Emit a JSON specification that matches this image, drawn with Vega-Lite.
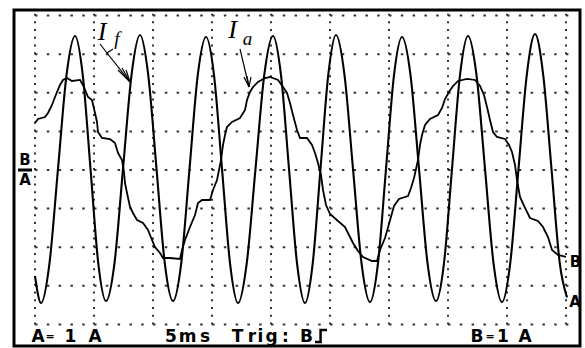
{
  "$schema": "https://vega.github.io/schema/vega-lite/v6.json",
  "width": 566,
  "height": 336,
  "autosize": {"type": "none"},
  "padding": {"left": 14, "top": 10, "right": 5, "bottom": 2},
  "background": "#ffffff",
  "config": {"view": {"stroke": "#000000", "strokeWidth": 3}},
  "datasets": {
    "vgrid": [{"t": 0}, {"t": 5}, {"t": 10}, {"t": 15}, {"t": 20}, {"t": 25}, {"t": 30}, {"t": 35}, {"t": 40}, {"t": 45}],
    "hgrid": [{"v": -4}, {"v": -3}, {"v": -2}, {"v": -1}, {"v": 0}, {"v": 1}, {"v": 2}, {"v": 3}, {"v": 4}],
    "sigA": [
      {"t": 0, "v": -2.75}, {"t": 0.508, "v": -3.446},
      {"t": 1.229, "v": -2.41}, {"t": 1.949, "v": 0.03}, {"t": 2.670, "v": 2.46}, {"t": 3.390, "v": 3.472},
      {"t": 4.047, "v": 2.46}, {"t": 4.704, "v": 0.03}, {"t": 5.360, "v": -2.41}, {"t": 6.017, "v": -3.394},
      {"t": 6.737, "v": -2.41}, {"t": 7.458, "v": 0.03}, {"t": 8.178, "v": 2.46}, {"t": 8.898, "v": 3.497},
      {"t": 9.597, "v": 2.46}, {"t": 10.297, "v": 0.03}, {"t": 10.996, "v": -2.41}, {"t": 11.695, "v": -3.394},
      {"t": 12.394, "v": -2.41}, {"t": 13.094, "v": 0.03}, {"t": 13.793, "v": 2.46}, {"t": 14.492, "v": 3.446},
      {"t": 15.170, "v": 2.46}, {"t": 15.848, "v": 0.03}, {"t": 16.525, "v": -2.41}, {"t": 17.203, "v": -3.446},
      {"t": 17.945, "v": -2.41}, {"t": 18.686, "v": 0.03}, {"t": 19.428, "v": 2.46}, {"t": 20.169, "v": 3.472},
      {"t": 20.847, "v": 2.46}, {"t": 21.525, "v": 0.03}, {"t": 22.203, "v": -2.41}, {"t": 22.881, "v": -3.446},
      {"t": 23.538, "v": -2.41}, {"t": 24.195, "v": 0.03}, {"t": 24.851, "v": 2.46}, {"t": 25.508, "v": 3.497},
      {"t": 26.229, "v": 2.46}, {"t": 26.949, "v": 0.03}, {"t": 27.670, "v": -2.41}, {"t": 28.390, "v": -3.420},
      {"t": 29.068, "v": -2.41}, {"t": 29.746, "v": 0.03}, {"t": 30.424, "v": 2.46}, {"t": 31.102, "v": 3.446},
      {"t": 31.822, "v": 2.46}, {"t": 32.543, "v": 0.03}, {"t": 33.263, "v": -2.41}, {"t": 33.983, "v": -3.394},
      {"t": 34.661, "v": -2.41}, {"t": 35.339, "v": 0.03}, {"t": 36.017, "v": 2.46}, {"t": 36.695, "v": 3.472},
      {"t": 37.415, "v": 2.46}, {"t": 38.136, "v": 0.03}, {"t": 38.856, "v": -2.41}, {"t": 39.576, "v": -3.420},
      {"t": 40.275, "v": -2.41}, {"t": 40.975, "v": 0.03}, {"t": 41.674, "v": 2.46}, {"t": 42.373, "v": 3.523},
      {"t": 43.07, "v": 2.46}, {"t": 43.77, "v": 0.03}, {"t": 44.47, "v": -2.41}, {"t": 45.085, "v": -3.30}
    ],
    "sigB": [
      {"t": 0, "v": 1.218}, {"t": 0.254, "v": 1.321}, {"t": 0.847, "v": 1.373}, {"t": 1.102, "v": 1.477},
      {"t": 1.441, "v": 1.684}, {"t": 1.695, "v": 1.891}, {"t": 1.864, "v": 2.021}, {"t": 2.119, "v": 2.202},
      {"t": 2.373, "v": 2.332}, {"t": 2.712, "v": 2.383}, {"t": 3.136, "v": 2.306}, {"t": 3.814, "v": 2.332},
      {"t": 4.068, "v": 2.202}, {"t": 4.492, "v": 1.891}, {"t": 4.831, "v": 1.813}, {"t": 5.085, "v": 1.477},
      {"t": 5.254, "v": 1.244}, {"t": 5.339, "v": 0.984}, {"t": 5.678, "v": 0.829}, {"t": 6.356, "v": 0.803},
      {"t": 6.780, "v": 0.699}, {"t": 7.034, "v": 0.440}, {"t": 7.373, "v": 0.259}, {"t": 7.542, "v": -0.052},
      {"t": 7.627, "v": -0.337}, {"t": 7.797, "v": -0.596}, {"t": 8.051, "v": -0.959}, {"t": 8.305, "v": -1.114},
      {"t": 8.644, "v": -1.295}, {"t": 9.153, "v": -1.373}, {"t": 9.576, "v": -1.554}, {"t": 9.915, "v": -1.813},
      {"t": 10.169, "v": -1.995}, {"t": 10.593, "v": -2.150}, {"t": 10.847, "v": -2.280}, {"t": 11.441, "v": -2.280},
      {"t": 12.288, "v": -2.306}, {"t": 12.458, "v": -2.073}, {"t": 12.712, "v": -1.813}, {"t": 13.136, "v": -1.477},
      {"t": 13.559, "v": -1.166}, {"t": 13.814, "v": -0.855}, {"t": 14.153, "v": -0.777}, {"t": 14.831, "v": -0.777},
      {"t": 15.085, "v": -0.518}, {"t": 15.424, "v": -0.259}, {"t": 15.763, "v": 0.259}, {"t": 15.932, "v": 0.648},
      {"t": 16.102, "v": 0.907}, {"t": 16.271, "v": 1.114}, {"t": 16.695, "v": 1.244}, {"t": 17.373, "v": 1.347},
      {"t": 17.797, "v": 1.554}, {"t": 17.966, "v": 1.813}, {"t": 18.220, "v": 2.021}, {"t": 18.475, "v": 2.150},
      {"t": 18.898, "v": 2.280}, {"t": 19.492, "v": 2.383}, {"t": 19.915, "v": 2.409}, {"t": 20.593, "v": 2.332},
      {"t": 21.017, "v": 2.150}, {"t": 21.356, "v": 1.995}, {"t": 21.610, "v": 1.736}, {"t": 21.864, "v": 1.425},
      {"t": 22.203, "v": 1.036}, {"t": 22.458, "v": 0.829}, {"t": 23.051, "v": 0.829}, {"t": 23.475, "v": 0.648},
      {"t": 23.729, "v": 0.440}, {"t": 23.983, "v": 0.181}, {"t": 24.237, "v": -0.130}, {"t": 24.407, "v": -0.518},
      {"t": 24.661, "v": -0.907}, {"t": 25.000, "v": -1.140}, {"t": 25.678, "v": -1.321}, {"t": 26.271, "v": -1.477},
      {"t": 26.610, "v": -1.684}, {"t": 26.949, "v": -1.891}, {"t": 27.373, "v": -2.098}, {"t": 27.797, "v": -2.254},
      {"t": 28.559, "v": -2.358}, {"t": 28.983, "v": -2.358}, {"t": 29.237, "v": -2.073}, {"t": 29.661, "v": -1.762},
      {"t": 30.000, "v": -1.399}, {"t": 30.424, "v": -0.933}, {"t": 30.847, "v": -0.751}, {"t": 31.610, "v": -0.674},
      {"t": 31.864, "v": -0.466}, {"t": 32.119, "v": -0.207}, {"t": 32.458, "v": 0.259}, {"t": 32.627, "v": 0.648},
      {"t": 32.797, "v": 0.907}, {"t": 33.051, "v": 1.166}, {"t": 33.475, "v": 1.321}, {"t": 34.153, "v": 1.425},
      {"t": 34.492, "v": 1.606}, {"t": 34.746, "v": 1.839}, {"t": 35.085, "v": 2.021}, {"t": 35.424, "v": 2.176},
      {"t": 35.847, "v": 2.306}, {"t": 36.610, "v": 2.358}, {"t": 37.288, "v": 2.332}, {"t": 37.712, "v": 2.176},
      {"t": 38.051, "v": 1.943}, {"t": 38.305, "v": 1.632}, {"t": 38.559, "v": 1.295}, {"t": 38.814, "v": 0.984},
      {"t": 39.153, "v": 0.855}, {"t": 39.831, "v": 0.803}, {"t": 40.169, "v": 0.648}, {"t": 40.424, "v": 0.466},
      {"t": 40.678, "v": 0.130}, {"t": 40.847, "v": -0.259}, {"t": 41.102, "v": -0.699}, {"t": 41.525, "v": -0.984},
      {"t": 41.949, "v": -1.244}, {"t": 42.627, "v": -1.321}, {"t": 43.051, "v": -1.477}, {"t": 43.475, "v": -1.736},
      {"t": 43.814, "v": -2.073}, {"t": 44.322, "v": -2.202}, {"t": 45.000, "v": -2.254}
    ],
    "arrows": [
      {"t": 5.508, "v": 3.264, "t2": 6.102, "v2": 3.031},
      {"t": 6.610, "v": 3.135, "t2": 6.102, "v2": 3.031},
      {"t": 6.102, "v": 3.031, "t2": 8.051, "v2": 2.280},
      {"t": 7.034, "v": 2.591, "t2": 8.051, "v2": 2.280},
      {"t": 7.373, "v": 2.642, "t2": 8.051, "v2": 2.280},
      {"t": 7.712, "v": 2.591, "t2": 8.051, "v2": 2.280},
      {"t": 17.373, "v": 3.135, "t2": 18.136, "v2": 2.150},
      {"t": 17.712, "v": 2.409, "t2": 18.136, "v2": 2.150},
      {"t": 17.966, "v": 2.435, "t2": 18.136, "v2": 2.150},
      {"t": 18.305, "v": 2.409, "t2": 18.136, "v2": 2.150}
    ],
    "scopeText": [
      {"label": "A", "t": 0.254, "v": -4.469},
      {"label": "1", "t": 3.008, "v": -4.469}, {"label": "A", "t": 5.085, "v": -4.469},
      {"label": "5", "t": 11.525, "v": -4.469}, {"label": "m", "t": 12.924, "v": -4.469},
      {"label": "s", "t": 14.407, "v": -4.469}, {"label": "T", "t": 17.161, "v": -4.469},
      {"label": "r", "t": 18.390, "v": -4.469}, {"label": "i", "t": 19.110, "v": -4.469},
      {"label": "g", "t": 20.042, "v": -4.469}, {"label": ":", "t": 21.229, "v": -4.469},
      {"label": "B", "t": 23.008, "v": -4.469}, {"label": "B", "t": 37.458, "v": -4.469},
      {"label": "1", "t": 39.661, "v": -4.469},
      {"label": "A", "t": 41.525, "v": -4.469}
    ],
    "eqText": [
      {"label": "=", "t": 1.27, "v": -4.40},
      {"label": "=", "t": 38.56, "v": -4.40}
    ],
    "sideText": [
      {"label": "B", "t": 45.805, "v": -2.513}, {"label": "A", "t": 45.763, "v": -3.549},
      {"label": "B", "t": -0.847, "v": 0.130}, {"label": "A", "t": -0.847, "v": -0.389}
    ],
    "sideBar": [{"t": -1.441, "t2": -0.254, "v": 0}],
    "bigI": [
      {"label": "I", "t": 5.68, "v": 3.368},
      {"label": "I", "t": 16.74, "v": 3.420}
    ],
    "subs": [
      {"label": "f", "t": 6.95, "v": 3.238},
      {"label": "a", "t": 18.0, "v": 3.238}
    ],
    "trig": [
      {"t": 23.73, "v": -4.456, "i": 0}, {"t": 24.2, "v": -4.456, "i": 1},
      {"t": 24.2, "v": -4.145, "i": 2}, {"t": 24.75, "v": -4.145, "i": 3}
    ]
  },
  "layer": [
    {
      "data": {"name": "hgrid"},
      "mark": {"type": "rule", "color": "#333333", "strokeWidth": 2, "strokeDash": [2.5, 9.3]},
      "encoding": {
        "y": {"field": "v", "type": "quantitative", "scale": {"domain": [-4.56, 4.145], "nice": false, "zero": false}, "axis": null},
        "x": {"datum": 0, "type": "quantitative", "scale": {"domain": [-1.78, 46.186], "nice": false, "zero": false}, "axis": null},
        "x2": {"datum": 45.2}
      }
    },
    {
      "data": {"name": "vgrid"},
      "mark": {"type": "rule", "color": "#333333", "strokeWidth": 2, "strokeDash": [2, 5.72]},
      "encoding": {
        "x": {"field": "t", "type": "quantitative"},
        "y": {"datum": -4, "type": "quantitative"},
        "y2": {"datum": 4.05}
      }
    },
    {
      "data": {"name": "sigB"},
      "mark": {"type": "line", "color": "#000000", "strokeWidth": 1.8, "interpolate": "linear"},
      "encoding": {
        "x": {"field": "t", "type": "quantitative"},
        "y": {"field": "v", "type": "quantitative"}
      }
    },
    {
      "data": {"name": "sigA"},
      "mark": {"type": "line", "color": "#000000", "strokeWidth": 2.1, "interpolate": "monotone"},
      "encoding": {
        "x": {"field": "t", "type": "quantitative"},
        "y": {"field": "v", "type": "quantitative"}
      }
    },
    {
      "data": {"name": "arrows"},
      "mark": {"type": "rule", "color": "#000000", "strokeWidth": 1.2},
      "encoding": {
        "x": {"field": "t", "type": "quantitative"},
        "y": {"field": "v", "type": "quantitative"},
        "x2": {"field": "t2"},
        "y2": {"field": "v2"}
      }
    },
    {
      "data": {"name": "sideBar"},
      "mark": {"type": "rule", "color": "#000000", "strokeWidth": 3},
      "encoding": {
        "x": {"field": "t", "type": "quantitative"},
        "x2": {"field": "t2"},
        "y": {"field": "v", "type": "quantitative"}
      }
    },
    {
      "data": {"name": "trig"},
      "mark": {"type": "line", "color": "#000000", "strokeWidth": 2.5, "interpolate": "linear"},
      "encoding": {
        "x": {"field": "t", "type": "quantitative"},
        "y": {"field": "v", "type": "quantitative"},
        "order": {"field": "i", "type": "quantitative"}
      }
    },
    {
      "data": {"name": "scopeText"},
      "mark": {"type": "text", "font": "DejaVu Sans", "fontWeight": "bold", "fontSize": 17, "align": "center", "baseline": "alphabetic", "color": "#000000"},
      "encoding": {
        "x": {"field": "t", "type": "quantitative"},
        "y": {"field": "v", "type": "quantitative"},
        "text": {"field": "label"}
      }
    },
    {
      "data": {"name": "eqText"},
      "mark": {"type": "text", "font": "DejaVu Sans", "fontWeight": "bold", "fontSize": 11, "align": "center", "baseline": "alphabetic", "color": "#000000"},
      "encoding": {
        "x": {"field": "t", "type": "quantitative"},
        "y": {"field": "v", "type": "quantitative"},
        "text": {"field": "label"}
      }
    },
    {
      "data": {"name": "sideText"},
      "mark": {"type": "text", "font": "DejaVu Sans", "fontWeight": "bold", "fontSize": 15, "align": "center", "baseline": "alphabetic", "color": "#000000"},
      "encoding": {
        "x": {"field": "t", "type": "quantitative"},
        "y": {"field": "v", "type": "quantitative"},
        "text": {"field": "label"}
      }
    },
    {
      "data": {"name": "bigI"},
      "mark": {"type": "text", "font": "Liberation Serif", "fontStyle": "italic", "fontSize": 26, "align": "center", "baseline": "alphabetic", "color": "#000000"},
      "encoding": {
        "x": {"field": "t", "type": "quantitative"},
        "y": {"field": "v", "type": "quantitative"},
        "text": {"field": "label"}
      }
    },
    {
      "data": {"name": "subs"},
      "mark": {"type": "text", "font": "Liberation Serif", "fontStyle": "italic", "fontSize": 19, "align": "center", "baseline": "alphabetic", "color": "#000000"},
      "encoding": {
        "x": {"field": "t", "type": "quantitative"},
        "y": {"field": "v", "type": "quantitative"},
        "text": {"field": "label"}
      }
    }
  ]
}
